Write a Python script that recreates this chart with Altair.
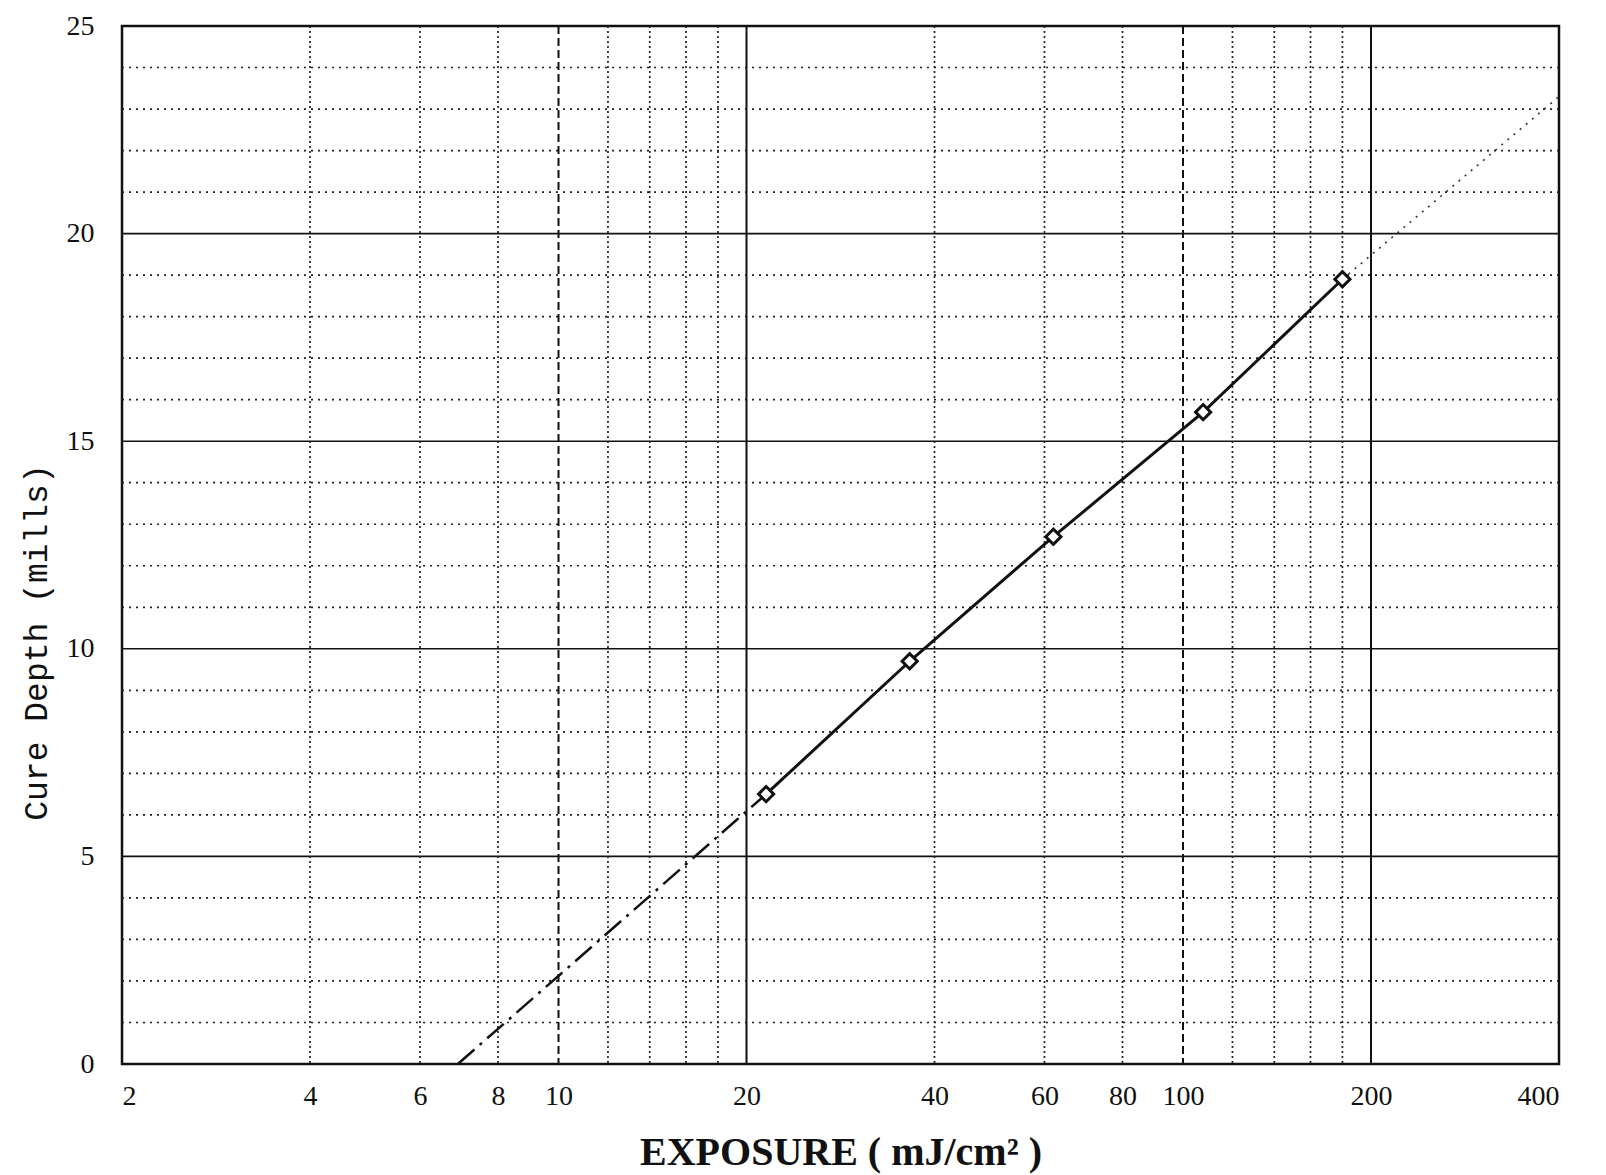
import altair as alt
import pandas as pd

exposure = [21.5, 36.5, 62.0, 107.7, 180.0]
cure_depth = [6.5, 9.7, 12.7, 15.7, 18.9]

# Extrapolation of the fitted line (read end points)
extrap_low_x = [6.9, 21.5]
extrap_low_y = [0.0, 6.5]
extrap_high_x = [180.0, 400.0]
extrap_high_y = [18.9, 23.3]

# Axis labels and grid positions
x_ticks = [2, 4, 6, 8, 10, 20, 40, 60, 80, 100, 200, 400]
y_ticks = [0, 5, 10, 15, 20, 25]
grid_y_minor = [1, 2, 3, 4, 6, 7, 8, 9, 11, 12, 13, 14, 16, 17, 18, 19, 21, 22, 23, 24]
grid_y_major = [5, 10, 15, 20]
grid_x_dotted = [4, 6, 8, 12, 14, 16, 18, 40, 60, 80, 120, 140, 160, 180]
grid_x_dashed = [10, 100]
grid_x_solid = [20, 200]

xs = alt.Scale(type="log", domain=[2, 400], nice=False)
ys = alt.Scale(domain=[0, 25], nice=False, zero=False)

xaxis = alt.Axis(
    values=x_ticks, format="d", grid=False, ticks=False, domain=False,
    labelFont="Liberation Serif", labelFontSize=28, labelColor="#111",
    labelPadding=18,
    title="EXPOSURE  ( mJ/cm² )", titleFont="Liberation Serif", titleFontSize=40,
    titleFontWeight="bold", titleColor="#111", titleY=88, titleBaseline="middle",
)
yaxis = alt.Axis(
    values=y_ticks, grid=False, ticks=False, domain=False,
    labelFont="Liberation Serif", labelFontSize=28, labelColor="#111",
    labelPadding=28,
    title="Cure Depth (mills)", titleFont="Liberation Mono", titleFontSize=33,
    titleFontWeight="normal", titleColor="#111", titleX=-86, titleY=616,
    titleAngle=270, titleAlign="center", titleBaseline="middle",
)


def X(field="x"):
    return alt.X(f"{field}:Q", scale=xs, axis=xaxis)


def Y(field="y"):
    return alt.Y(f"{field}:Q", scale=ys, axis=yaxis)


hmin = alt.Chart(pd.DataFrame({"y": grid_y_minor})).mark_rule(
    color="#222", strokeWidth=1.7, strokeDash=[2, 5]).encode(y=Y())
hmaj = alt.Chart(pd.DataFrame({"y": grid_y_major})).mark_rule(
    color="#111", strokeWidth=1.6).encode(y=Y())
vdot = alt.Chart(pd.DataFrame({"x": grid_x_dotted})).mark_rule(
    color="#222", strokeWidth=1.7, strokeDash=[2, 3]).encode(x=X())
vdash = alt.Chart(pd.DataFrame({"x": grid_x_dashed})).mark_rule(
    color="#111", strokeWidth=2, strokeDash=[8, 4]).encode(x=X())
vsolid = alt.Chart(pd.DataFrame({"x": grid_x_solid})).mark_rule(
    color="#111", strokeWidth=2).encode(x=X())

low = alt.Chart(pd.DataFrame({"x": extrap_low_x, "y": extrap_low_y})).mark_line(
    color="#111", strokeWidth=2.5, strokeDash=[22, 7, 3, 7]).encode(x=X(), y=Y())
high = alt.Chart(pd.DataFrame({"x": extrap_high_x, "y": extrap_high_y})).mark_line(
    color="#333", strokeWidth=1.6, strokeDash=[2, 6]).encode(x=X(), y=Y())

data = pd.DataFrame({"x": exposure, "y": cure_depth})
line = alt.Chart(data).mark_line(color="#111", strokeWidth=3).encode(x=X(), y=Y())
pts = alt.Chart(data).mark_point(
    shape="diamond", size=230, filled=True, fill="white", stroke="#111",
    strokeWidth=3, opacity=1).encode(x=X(), y=Y())

chart = alt.layer(hmin, hmaj, vdot, vdash, vsolid, low, high, line, pts).properties(
    width=1437, height=1038,
    autosize=alt.AutoSizeParams(type="none"),
    padding={"left": 114, "top": 18, "right": 30, "bottom": 110},
    background="white",
).configure_view(stroke="#111", strokeWidth=2.5)

chart.save("out.html", embed_options={"renderer": "svg", "actions": False})
